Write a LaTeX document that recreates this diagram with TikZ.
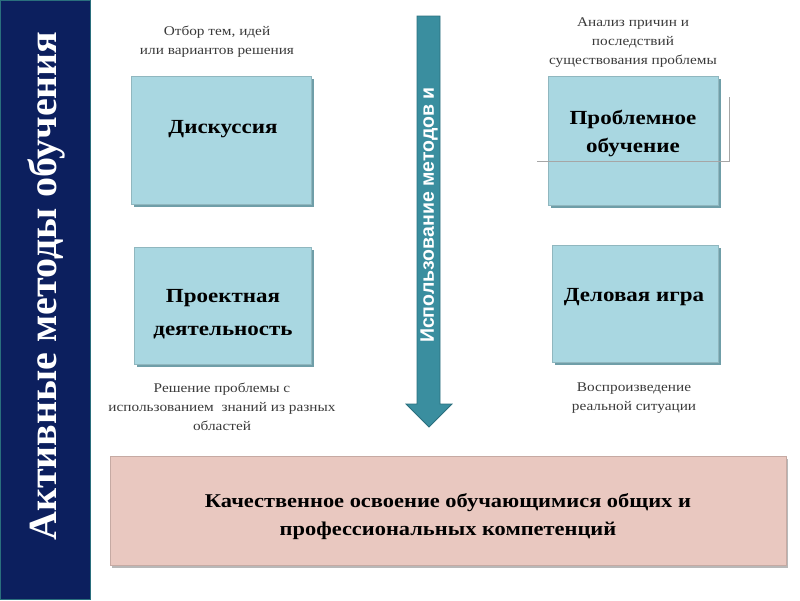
\documentclass[tikz,border=0pt]{standalone}
\usepackage{fontspec}
\setmainfont{Liberation Serif}
\newfontfamily\arialfont{Liberation Sans}
\newfontfamily\wideserif[FakeStretch=1.15]{Liberation Serif}
\usetikzlibrary{shadows}
\definecolor{barnavy}{HTML}{0C1F5E}
\definecolor{boxblue}{HTML}{A9D7E1}
\definecolor{boxedge}{HTML}{6F9EA8}
\definecolor{arrowteal}{HTML}{3A8E9F}
\definecolor{arrowedge}{HTML}{2A6F7D}
\definecolor{resultpink}{HTML}{E9C8C0}
\definecolor{labelgray}{HTML}{3A3A3A}
\tikzset{
  methodbox/.style={rectangle, fill=boxblue, draw=boxblue!85!black, line width=0.4pt,
    drop shadow={shadow xshift=2.5pt, shadow yshift=-2.5pt, fill=boxedge, opacity=1}},
  methodtext/.style={align=center, font=\wideserif\fontsize{20}{30}\selectfont\bfseries},
  notetext/.style={align=center, text=labelgray, font=\wideserif\fontsize{13.3}{19}\selectfont}
}
\begin{document}
\begin{tikzpicture}[x=1pt, y=-1pt]
\useasboundingbox (0,0) rectangle (800,600);

% Left bar
\fill[barnavy, draw=arrowedge, line width=0.8pt] (0.5,0.5) rectangle (90,599.5);
\node[rotate=90, text=white, font=\fontsize{40}{40}\selectfont\bfseries] (title) at (46,286) {Активные методы обучения};

% Arrow
\draw[fill=arrowteal, draw=arrowedge, line width=0.8pt, line join=miter]
  (417,16) -- (440,16) -- (440,404) -- (452,404) -- (429,427) -- (406,404) -- (417,404) -- cycle;
\node[rotate=90, text=white, font=\arialfont\fontsize{19.5}{19.5}\selectfont\bfseries] (uses) at (429,215) {Использование методов и};

% Boxes
\node[methodbox, minimum width=180pt, minimum height=128pt] (disc) at (221,140) {};
\node[methodbox, minimum width=177pt, minimum height=117pt] (proj) at (222.5,305.5) {};
\node[methodbox, minimum width=170pt, minimum height=129pt] (prob) at (633,140.5) {};
\node[methodbox, minimum width=166pt, minimum height=117pt] (game) at (635,303.5) {};

\node[methodtext] (disct) at (223,129) {Дискуссия};
\node[methodtext, font=\wideserif\fontsize{20}{33}\selectfont\bfseries] (projt) at (223,314) {Проектная\\деятельность};
\node[methodtext, font=\wideserif\fontsize{20}{28}\selectfont\bfseries] (probt) at (633,133) {Проблемное\\обучение};
\node[methodtext] (gamet) at (634,297) {Деловая игра};

% thin frame line
\draw[gray!70, line width=0.6pt] (537,161) -- (729,161) -- (729,97);

% Notes
\node[notetext] (discn) at (217,42) {Отбор тем, идей\\или вариантов решения};
\node[notetext] (probn) at (633,43) {Анализ причин и\\последствий\\существования проблемы};
\node[notetext] (projn) at (222,407) {Решение проблемы с\\использованием~ знаний из разных\\областей};
\node[notetext] (gamen) at (634,398) {Воспроизведение\\реальной ситуации};

% Result
\node[rectangle, fill=resultpink, draw=resultpink!85!black, line width=0.4pt,
  minimum width=676pt, minimum height=109pt,
  drop shadow={shadow xshift=2pt, shadow yshift=-3pt, fill=gray!70, opacity=0.8}] (result) at (448,510.5) {};
\node[align=center, font=\wideserif\fontsize{19.5}{28}\selectfont\bfseries] (resultt) at (448,517) {Качественное освоение обучающимися общих и\\профессиональных компетенций};
\end{tikzpicture}
\end{document}
